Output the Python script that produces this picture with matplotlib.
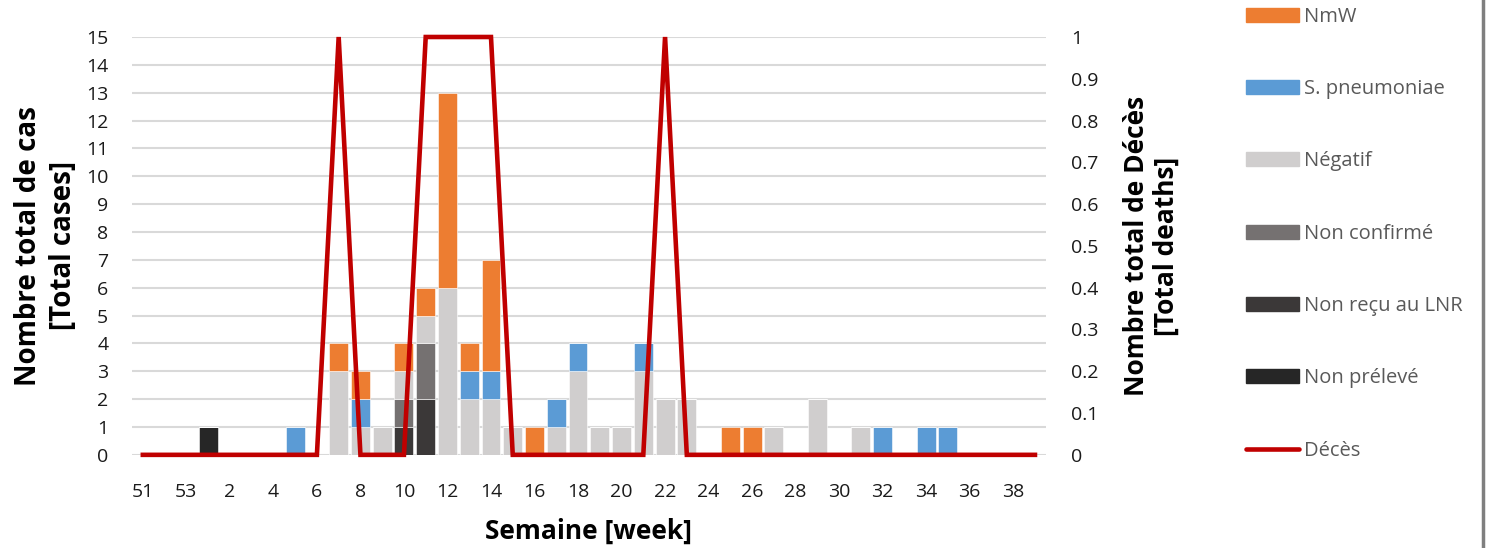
import numpy as np
import matplotlib
matplotlib.use("Agg")
import matplotlib.pyplot as plt
from matplotlib.patches import Patch
from matplotlib.lines import Line2D

plt.rcParams['font.family'] = ['Open Sans', 'DejaVu Sans']

# weeks 51..53 then 1..39
weeks = ['51', '52', '53', '1', '2', '3', '4', '5', '6', '7', '8', '9', '10',
         '11', '12', '13', '14', '15', '16', '17', '18', '19', '20', '21', '22',
         '23', '24', '25', '26', '27', '28', '29', '30', '31', '32', '33', '34',
         '35', '36', '37', '38', '39']

non_preleve = [0, 0, 0, 1, 0, 0, 0, 0, 0, 0, 0, 0, 0, 0, 0, 0, 0, 0, 0, 0, 0,
               0, 0, 0, 0, 0, 0, 0, 0, 0, 0, 0, 0, 0, 0, 0, 0, 0, 0, 0, 0, 0]
non_recu = [0, 0, 0, 0, 0, 0, 0, 0, 0, 0, 0, 0, 1, 2, 0, 0, 0, 0, 0, 0, 0,
            0, 0, 0, 0, 0, 0, 0, 0, 0, 0, 0, 0, 0, 0, 0, 0, 0, 0, 0, 0, 0]
non_confirme = [0, 0, 0, 0, 0, 0, 0, 0, 0, 0, 0, 0, 1, 2, 0, 0, 0, 0, 0, 0, 0,
                0, 0, 0, 0, 0, 0, 0, 0, 0, 0, 0, 0, 0, 0, 0, 0, 0, 0, 0, 0, 0]
negatif = [0, 0, 0, 0, 0, 0, 0, 0, 0, 3, 1, 1, 1, 1, 6, 2, 2, 1, 0, 1, 3,
           1, 1, 3, 2, 2, 0, 0, 0, 1, 0, 2, 0, 1, 0, 0, 0, 0, 0, 0, 0, 0]
spneumo = [0, 0, 0, 0, 0, 0, 0, 1, 0, 0, 1, 0, 0, 0, 0, 1, 1, 0, 0, 1, 1,
           0, 0, 1, 0, 0, 0, 0, 0, 0, 0, 0, 0, 0, 1, 0, 1, 1, 0, 0, 0, 0]
nmw = [0, 0, 0, 0, 0, 0, 0, 0, 0, 1, 1, 0, 1, 1, 7, 1, 4, 0, 1, 0, 0,
       0, 0, 0, 0, 0, 0, 1, 1, 0, 0, 0, 0, 0, 0, 0, 0, 0, 0, 0, 0, 0]
deces = [0, 0, 0, 0, 0, 0, 0, 0, 0, 1, 0, 0, 0, 1, 1, 1, 1, 0, 0, 0, 0,
         0, 0, 0, 1, 0, 0, 0, 0, 0, 0, 0, 0, 0, 0, 0, 0, 0, 0, 0, 0, 0]

series = [
    ("Non prélevé", non_preleve, "#262626"),
    ("Non reçu au LNR", non_recu, "#3b3838"),
    ("Non confirmé", non_confirme, "#757171"),
    ("Négatif", negatif, "#d0cece"),
    ("S. pneumoniae", spneumo, "#5b9bd5"),
    ("NmW", nmw, "#ed7d31"),
]

fig = plt.figure(figsize=(14.86, 5.48), dpi=100)
ax = fig.add_axes([0.0888, 0.17, 0.615, 0.7625])

x = np.arange(len(weeks))
bottom = np.zeros(len(weeks))
for name, vals, col in series:
    v = np.array(vals, dtype=float)
    ax.bar(x, v, bottom=bottom, width=0.87, color=col, edgecolor='white',
           linewidth=0.4, zorder=2)
    bottom += v

ax.set_xlim(-0.5, len(weeks) - 0.5)
ax.set_ylim(0, 15)
ax.set_yticks(range(0, 16))
ax.set_xticks(x[::2])
ax.set_xticklabels(weeks[::2])
ax.yaxis.grid(True, color='#d9d9d9', linewidth=1.5, zorder=0)
ax.set_axisbelow(True)
for s in ax.spines.values():
    s.set_visible(False)
ax.tick_params(axis='both', length=0, labelsize=14, colors='#1a1a1a')
ax.tick_params(axis='x', pad=20)
ax.tick_params(axis='y', pad=17)
ax.set_ylabel("Nombre total de cas\n[Total cases]", fontsize=20,
              fontweight='bold', labelpad=6, linespacing=1.25)
ax.set_xlabel("Semaine [week]", fontsize=19, fontweight='bold', labelpad=12)

ax2 = ax.twinx()
ax2.plot(x, deces, color='#c00000', linewidth=3.3, solid_joinstyle='miter',
         clip_on=False, zorder=5)
ax2.set_ylim(0, 1)
ax2.set_yticks(np.arange(0, 1.01, 0.1))
ax2.set_yticklabels(['0', '0.1', '0.2', '0.3', '0.4', '0.5', '0.6', '0.7',
                     '0.8', '0.9', '1'])
for s in ax2.spines.values():
    s.set_visible(False)
ax2.tick_params(axis='y', length=0, labelsize=14, colors='#1a1a1a', pad=18)
ax2.set_ylabel("Nombre total de Décès\n[Total deaths]", fontsize=19,
               fontweight='bold', labelpad=18, linespacing=1.12)

handles = [Patch(color=c) for _, _, c in series[::-1]]
labels = [n for n, _, _ in series[::-1]]
handles.append(Line2D([0], [0], color='#c00000', linewidth=3.3,
                      solid_capstyle='round'))
labels.append("Décès")
fig.legend(handles, labels, loc='upper left', bbox_to_anchor=(0.8265, 1.021),
           frameon=False, fontsize=14.5, labelcolor='#595959',
           handlelength=2.6, handleheight=0.7, handletextpad=0.25,
           labelspacing=2.6)

fig.add_artist(Line2D([0.998, 0.998], [0, 1], color='#7f7f7f', linewidth=2.5,
                      transform=fig.transFigure))

fig.savefig("out.png", dpi=100)
